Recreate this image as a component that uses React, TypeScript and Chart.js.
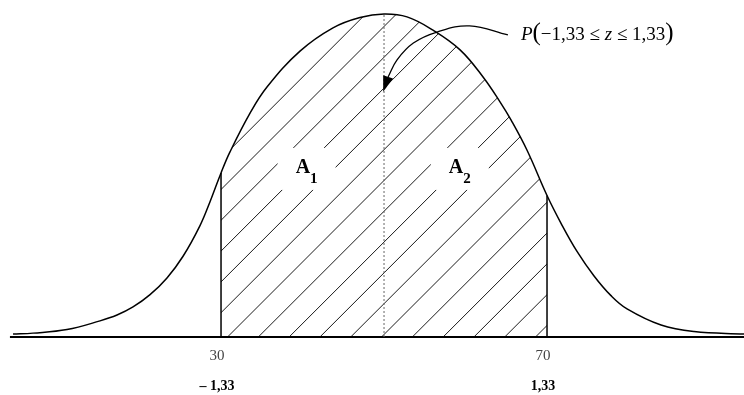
import React, { useEffect, useRef } from 'react';
import { Chart, registerables } from 'chart.js';

Chart.register(...registerables);

// Bell curve (x in original units, y relative to peak height)
const curveX = [4.48, 6.93, 11.1, 15.15, 17.24, 19.2, 21.29, 23.37, 25.34, 27.42, 28.65, 30, 31.1, 33.56, 35.64, 39.69, 43.74, 47.05, 50, 52.82, 56.01, 59.33, 62.15, 64.23, 65.58, 67.55, 70, 71.72, 73.68, 75.77, 77.85, 79.82, 83.99, 88.04, 94.17];
const curveY = [0.009, 0.012, 0.023, 0.05, 0.068, 0.093, 0.131, 0.183, 0.25, 0.345, 0.419, 0.508, 0.573, 0.693, 0.774, 0.885, 0.957, 0.989, 1.0, 0.991, 0.95, 0.889, 0.805, 0.728, 0.672, 0.578, 0.438, 0.352, 0.265, 0.189, 0.128, 0.087, 0.037, 0.017, 0.009];

const boundsX = [30, 70];
const meanX = 50;
const axisX = [4.1, 94.17];
const xMin = 2.88;
const xMax = 94.17;
const yMax = 1.0433;

const tickValues = [30, 70];
const tickLabels = ['30', '70'];
const zLabels = ['– 1,33', '1,33'];

const areaLabelX = [40.5, 59.3];
const areaLabelY = [0.508, 0.508];
const areaLabelMain = ['A', 'A'];
const areaLabelSub = ['1', '2'];

const arrowX = [65.2, 60.5, 56.5, 53.6, 51.6, 50.5];
const arrowY = [0.935, 0.963, 0.944, 0.91, 0.858, 0.805];
const arrowTip = { x: 49.9, y: 0.759 };

const probLabelPos = { x: 66.8, y: 0.9195 };
const probParts = [
  { t: 'P', italic: true, big: false },
  { t: '(', italic: false, big: true },
  { t: '−1,33 ≤ ', italic: false, big: false },
  { t: 'z', italic: true, big: false },
  { t: ' ≤ 1,33', italic: false, big: false },
  { t: ')', italic: false, big: true },
];

const SERIF = "'Liberation Serif', 'Times New Roman', serif";

function valueAt(x: number): number {
  const i = curveX.indexOf(x);
  return curveY[i];
}

const hatchPlugin = {
  id: 'hatchAndLabels',
  beforeDatasetsDraw(chart: any) {
    const ctx = chart.ctx as CanvasRenderingContext2D;
    const xs = chart.scales.x;
    const ys = chart.scales.y;
    const area = chart.chartArea;
    const meta = chart.getDatasetMeta(0);
    const line = meta.dataset;
    if (!line) return;
    line.updateControlPoints(area, 'x');
    const x0 = xs.getPixelForValue(boundsX[0]);
    const x1 = xs.getPixelForValue(boundsX[1]);
    const yb = ys.getPixelForValue(0);
    const top = area.top;
    ctx.save();
    ctx.beginPath();
    ctx.rect(x0, top, x1 - x0, yb - top);
    ctx.clip();
    ctx.beginPath();
    line.path(ctx);
    const pts = meta.data;
    ctx.lineTo(pts[pts.length - 1].x, yb);
    ctx.lineTo(pts[0].x, yb);
    ctx.closePath();
    ctx.clip();
    ctx.strokeStyle = '#1a1a1a';
    ctx.lineWidth = 1;
    const s = 30.8;
    const off = 10.1;
    const kStart = Math.floor((x0 + top - off) / s) - 1;
    const kEnd = Math.ceil((x1 + yb - off) / s) + 1;
    ctx.beginPath();
    for (let k = kStart; k <= kEnd; k++) {
      const c = off + k * s;
      ctx.moveTo(c - yb, yb);
      ctx.lineTo(c - top, top);
    }
    ctx.stroke();
    ctx.restore();

    // white boxes behind the area labels
    ctx.save();
    ctx.fillStyle = '#ffffff';
    for (let i = 0; i < areaLabelX.length; i++) {
      const cx = xs.getPixelForValue(areaLabelX[i]);
      const by = ys.getPixelForValue(areaLabelY[i]);
      ctx.fillRect(cx - 29, by - 25, 58, 42);
    }
    ctx.restore();
  },
  afterDatasetsDraw(chart: any) {
    const ctx = chart.ctx as CanvasRenderingContext2D;
    const xs = chart.scales.x;
    const ys = chart.scales.y;
    ctx.save();
    ctx.textBaseline = 'alphabetic';

    // area labels A1, A2
    for (let i = 0; i < areaLabelX.length; i++) {
      const cx = xs.getPixelForValue(areaLabelX[i]);
      const by = ys.getPixelForValue(areaLabelY[i]);
      ctx.font = `bold 20px ${SERIF}`;
      const wA = ctx.measureText(areaLabelMain[i]).width;
      ctx.font = `bold 15px ${SERIF}`;
      const wS = ctx.measureText(areaLabelSub[i]).width;
      const start = cx - (wA + wS) / 2;
      ctx.fillStyle = '#000';
      ctx.textAlign = 'left';
      ctx.font = `bold 20px ${SERIF}`;
      ctx.fillText(areaLabelMain[i], start, by);
      ctx.font = `bold 15px ${SERIF}`;
      ctx.fillText(areaLabelSub[i], start + wA, by + 10);
    }

    // arrowhead
    const last = arrowX.length - 1;
    const bx = xs.getPixelForValue(arrowX[last]);
    const byy = ys.getPixelForValue(arrowY[last]);
    const tx = xs.getPixelForValue(arrowTip.x);
    const ty = ys.getPixelForValue(arrowTip.y);
    const dx = tx - bx;
    const dy = ty - byy;
    const len = Math.hypot(dx, dy) || 1;
    const px = (-dy / len) * 5.2;
    const py = (dx / len) * 5.2;
    ctx.fillStyle = '#000';
    ctx.beginPath();
    ctx.moveTo(tx, ty);
    ctx.lineTo(bx + px, byy + py);
    ctx.lineTo(bx - px, byy - py);
    ctx.closePath();
    ctx.fill();

    // probability label
    let x = xs.getPixelForValue(probLabelPos.x);
    const baseY = ys.getPixelForValue(probLabelPos.y);
    ctx.textAlign = 'left';
    for (const p of probParts) {
      ctx.font = `${p.italic ? 'italic ' : ''}${p.big ? 25 : 19}px ${SERIF}`;
      ctx.fillText(p.t, x, baseY);
      x += ctx.measureText(p.t).width;
    }

    // tick labels under the axis
    const y0 = ys.getPixelForValue(0);
    ctx.textAlign = 'center';
    for (let i = 0; i < tickValues.length; i++) {
      const cx = xs.getPixelForValue(tickValues[i]) - 4;
      ctx.fillStyle = '#444';
      ctx.font = `15px ${SERIF}`;
      ctx.fillText(tickLabels[i], cx, y0 + 23);
      ctx.fillStyle = '#000';
      ctx.font = `bold 14px ${SERIF}`;
      ctx.fillText(zLabels[i], cx, y0 + 53);
    }
    ctx.restore();
  },
};

export default function App() {
  const canvasRef = useRef<HTMLCanvasElement | null>(null);

  useEffect(() => {
    const canvas = canvasRef.current;
    if (!canvas) return;
    const curveData = curveX.map((x, i) => ({ x, y: curveY[i] }));
    const chart = new Chart(canvas, {
      type: 'scatter',
      data: {
        datasets: [
          {
            data: curveData,
            showLine: true,
            borderColor: '#000',
            borderWidth: 1.5,
            tension: 0.4,
            pointRadius: 0,
            fill: false,
          },
          {
            data: [
              { x: boundsX[0], y: 0 },
              { x: boundsX[0], y: valueAt(boundsX[0]) },
            ],
            showLine: true,
            borderColor: '#000',
            borderWidth: 1.5,
            pointRadius: 0,
          },
          {
            data: [
              { x: boundsX[1], y: 0 },
              { x: boundsX[1], y: valueAt(boundsX[1]) },
            ],
            showLine: true,
            borderColor: '#000',
            borderWidth: 1.5,
            pointRadius: 0,
          },
          {
            data: [
              { x: meanX, y: 0 },
              { x: meanX, y: valueAt(meanX) },
            ],
            showLine: true,
            borderColor: '#666',
            borderWidth: 1,
            borderDash: [2, 2],
            pointRadius: 0,
          },
          {
            data: [
              { x: axisX[0], y: 0 },
              { x: axisX[1], y: 0 },
            ],
            showLine: true,
            borderColor: '#000',
            borderWidth: 2,
            pointRadius: 0,
            clip: false,
          },
          {
            data: arrowX.map((x, i) => ({ x, y: arrowY[i] })),
            showLine: true,
            borderColor: '#000',
            borderWidth: 1.3,
            tension: 0.4,
            pointRadius: 0,
          },
        ],
      } as any,
      options: {
        animation: false,
        responsive: false,
        devicePixelRatio: 1,
        layout: { padding: { left: 0, right: 0, top: 0, bottom: 58 } },
        scales: {
          x: { type: 'linear', min: xMin, max: xMax, display: false },
          y: { type: 'linear', min: 0, max: yMax, display: false },
        },
        plugins: {
          legend: { display: false },
          tooltip: { enabled: false },
        },
        elements: { point: { radius: 0 } },
      } as any,
      plugins: [hatchPlugin as any],
    });
    return () => chart.destroy();
  }, []);

  return (
    <div style={{ position: 'fixed', left: 0, top: 0, width: 744, height: 395, background: '#fff' }}>
      <canvas ref={canvasRef} width={744} height={395} style={{ display: 'block', width: 744, height: 395 }} />
    </div>
  );
}
